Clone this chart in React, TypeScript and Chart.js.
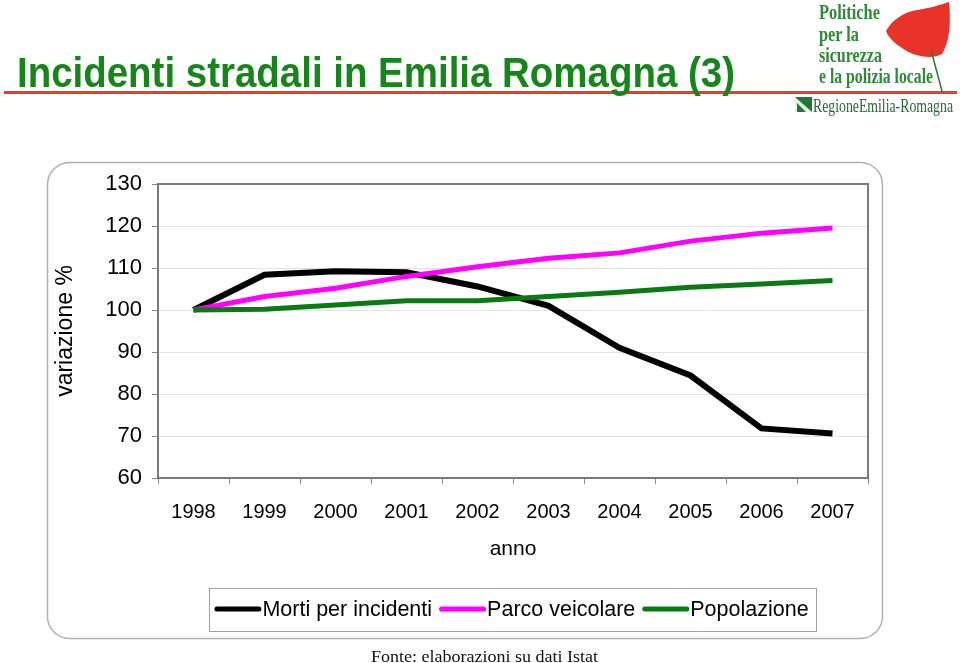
import React, { useEffect, useRef } from "react";
import { Chart, registerables } from "chart.js";

Chart.register(...registerables);

const years = ["1998", "1999", "2000", "2001", "2002", "2003", "2004", "2005", "2006", "2007"];
const mortiPerIncidenti = [100, 108.4, 109.2, 109.0, 105.6, 101.0, 91.0, 84.4, 71.8, 70.6];
const parcoVeicolare = [100, 103.2, 105.2, 108.0, 110.3, 112.3, 113.6, 116.4, 118.3, 119.5];
const popolazione = [100, 100.2, 101.2, 102.2, 102.2, 103.2, 104.2, 105.4, 106.2, 107.0];
const seriesLabels = ["Morti per incidenti", "Parco veicolare", "Popolazione"];
const seriesColors = ["#000000", "#ff00ff", "#0a7a12"];
const yMin = 60;
const yMax = 130;
const yStep = 10;

const FONT = "'Liberation Sans', Arial, sans-serif";

const framePlugin = {
  id: "frame",
  beforeDraw(chart: any) {
    const ctx = chart.ctx;
    ctx.save();
    ctx.fillStyle = "#ffffff";
    ctx.fillRect(0, 0, chart.width, chart.height);
    const x = 47.5, y = 162.5, w = 835, h = 476, r = 22;
    ctx.beginPath();
    ctx.moveTo(x + r, y);
    ctx.lineTo(x + w - r, y);
    ctx.arcTo(x + w, y, x + w, y + r, r);
    ctx.lineTo(x + w, y + h - r);
    ctx.arcTo(x + w, y + h, x + w - r, y + h, r);
    ctx.lineTo(x + r, y + h);
    ctx.arcTo(x, y + h, x, y + h - r, r);
    ctx.lineTo(x, y + r);
    ctx.arcTo(x, y, x + r, y, r);
    ctx.closePath();
    ctx.strokeStyle = "#b0b0b0";
    ctx.lineWidth = 1.5;
    ctx.stroke();
    ctx.restore();
  },
  beforeDatasetsDraw(chart: any) {
    const { ctx, chartArea } = chart;
    ctx.save();
    ctx.strokeStyle = "#7a7a7a";
    ctx.lineWidth = 2;
    ctx.strokeRect(chartArea.left, chartArea.top, chartArea.right - chartArea.left, chartArea.bottom - chartArea.top);
    ctx.restore();
  },
  afterDraw(chart: any) {
    const ctx = chart.ctx;
    ctx.save();
    // legend box
    ctx.strokeStyle = "#a0a0a0";
    ctx.lineWidth = 1;
    ctx.strokeRect(209.5, 588.5, 607, 43);
    ctx.font = "21.5px " + FONT;
    ctx.textBaseline = "middle";
    ctx.textAlign = "left";
    const lineLen = 47, gapText = 1, gapItem = 7;
    const ds = chart.data.datasets;
    let total = 0;
    ds.forEach((d: any, i: number) => {
      total += lineLen + gapText + ctx.measureText(d.label).width;
      if (i < ds.length - 1) total += gapItem;
    });
    let cx = 511.5 - total / 2;
    const cy = 609;
    ds.forEach((d: any) => {
      ctx.strokeStyle = d.borderColor;
      ctx.lineWidth = 5;
      ctx.lineCap = "round";
      ctx.beginPath();
      ctx.moveTo(cx + 2.5, cy);
      ctx.lineTo(cx + lineLen - 2.5, cy);
      ctx.stroke();
      cx += lineLen + gapText;
      ctx.fillStyle = "#000";
      ctx.fillText(d.label, cx, cy + 1);
      cx += ctx.measureText(d.label).width + gapItem;
    });
    ctx.restore();
  },
};

export default function App() {
  const ref = useRef<HTMLCanvasElement | null>(null);

  useEffect(() => {
    if (!ref.current) return;
    const seriesData = [mortiPerIncidenti, parcoVeicolare, popolazione];
    const chart = new Chart(ref.current, {
      type: "line",
      data: {
        labels: years,
        datasets: seriesData.map((d, i) => ({
          label: seriesLabels[i],
          data: d,
          borderColor: seriesColors[i],
          backgroundColor: seriesColors[i],
          borderWidth: i === 0 ? 6 : 5,
          pointRadius: 0,
          tension: 0,
          fill: false,
          order: 3 - i,
        })),
      },
      options: {
        responsive: false,
        animation: false,
        devicePixelRatio: 1,
        layout: { padding: { left: 50, right: 92, top: 184, bottom: 99 } },
        plugins: { legend: { display: false }, title: { display: false }, tooltip: { enabled: false } },
        scales: {
          x: {
            type: "category",
            offset: true,
            afterFit: (s: any) => {
              s.height = 86;
            },
            grid: {
              display: true,
              offset: true,
              drawOnChartArea: false,
              drawTicks: true,
              tickLength: 6,
              tickColor: "#888",
            },
            border: { display: false },
            ticks: { color: "#000", font: { family: FONT, size: 20 }, padding: 16, maxRotation: 0 },
            title: {
              display: true,
              text: "anno",
              color: "#000",
              font: { family: FONT, size: 21 },
              padding: { top: 0, bottom: 2 },
            },
          },
          y: {
            min: yMin,
            max: yMax,
            afterFit: (s: any) => {
              s.width = 108;
            },
            grid: {
              color: "#e3e3e3",
              lineWidth: 1,
              drawTicks: true,
              tickLength: 6,
              tickColor: "#888",
            },
            border: { display: false },
            ticks: {
              stepSize: yStep,
              color: "#000",
              font: { family: FONT, size: 22 },
              padding: 10,
            },
            title: {
              display: true,
              text: "variazione %",
              color: "#000",
              font: { family: FONT, size: 23 },
              padding: { top: 2, bottom: 0 },
            },
          },
        },
      },
      plugins: [framePlugin],
    });
    return () => chart.destroy();
  }, []);

  return (
    <div style={{ position: "fixed", left: 0, top: 0, width: 960, height: 663, background: "#fff", overflow: "hidden" }}>
      <canvas ref={ref} width={960} height={663} style={{ position: "absolute", left: 0, top: 0, width: 960, height: 663 }} />
      <svg width={960} height={663} style={{ position: "absolute", left: 0, top: 0, pointerEvents: "none" }}>
        <rect x={4} y={91} width={953} height={3} fill="#e8401c" />
        <text
          x={17}
          y={87}
          fontFamily="'Liberation Sans Narrow', 'Liberation Sans', Arial, sans-serif"
          fontWeight="bold"
          fontSize={42}
          fill="#16861a"
          textLength={718}
          lengthAdjust="spacingAndGlyphs"
        >
          Incidenti stradali in Emilia Romagna (3)
        </text>
        {/* logo */}
        <path
          d="M886,31 C892,20 904,12 917,10 C930,8 940,5 949,2 C951,20 950,42 942,54 C931,60 915,56 905,50 C897,45 889,39 886,31 Z"
          fill="#e8322a"
        />
        <line x1={931} y1={50} x2={942} y2={91} stroke="#2a7a2a" strokeWidth={1.5} />
        <g fontFamily="'Liberation Serif', 'DejaVu Serif', serif" fill="#2d8a36" fontWeight="bold">
          <text x={819} y={19} fontSize={21} textLength={61} lengthAdjust="spacingAndGlyphs">Politiche</text>
          <text x={819} y={41} fontSize={21} textLength={40} lengthAdjust="spacingAndGlyphs">per la</text>
          <text x={819} y={62} fontSize={21} textLength={63} lengthAdjust="spacingAndGlyphs">sicurezza</text>
          <text x={819} y={83} fontSize={21} textLength={114} lengthAdjust="spacingAndGlyphs">e la polizia locale</text>
        </g>
        <rect x={795} y={97} width={17} height={15} fill="#1f7a30" />
        <polygon points="795,97 812,112 795,112" fill="#ffffff" opacity={0.9} />
        <polygon points="797,103 806,112 797,112" fill="#1f7a30" />
        <text
          x={813}
          y={112}
          fontFamily="'Liberation Serif', 'DejaVu Serif', serif"
          fontSize={18}
          fill="#1f6e2e"
          textLength={140}
          lengthAdjust="spacingAndGlyphs"
        >
          RegioneEmilia-Romagna
        </text>
        <text
          x={371}
          y={662}
          fontFamily="'Liberation Serif', 'DejaVu Serif', serif"
          fontSize={17}
          fill="#111"
          textLength={227}
          lengthAdjust="spacingAndGlyphs"
        >
          Fonte: elaborazioni su dati Istat
        </text>
      </svg>
    </div>
  );
}
